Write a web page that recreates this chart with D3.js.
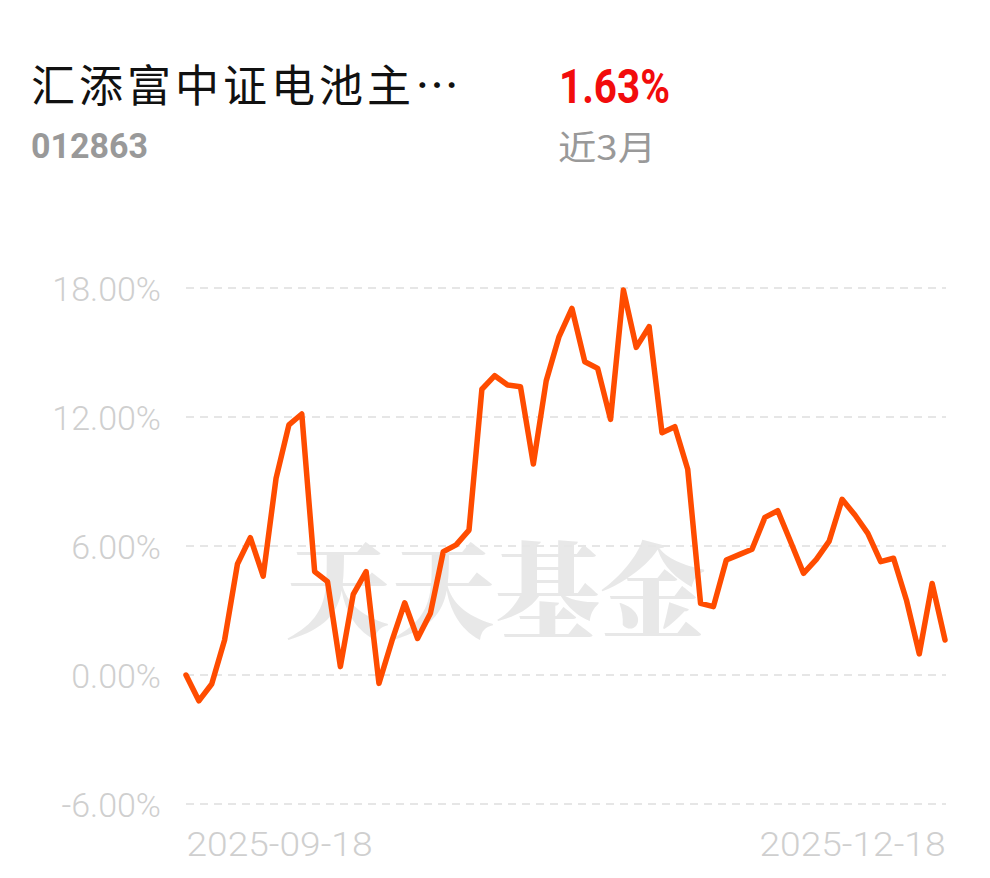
<!DOCTYPE html>
<html>
<head>
<meta charset="utf-8">
<script src="https://cdn.jsdelivr.net/npm/d3@7/dist/d3.min.js"></script>
<style>
  html, body { margin: 0; padding: 0; background: #fff; }
  svg { display: block; font-family: Roboto, "Noto Sans CJK SC", sans-serif; }
</style>
</head>
<body>
<svg id="chart" width="990" height="878"></svg>
<script>
const fundName = "汇添富中证电池主…";
const fundCode = "012863";
const periodReturn = "1.63%";
const periodLabel = "近3月";
const watermark = "天天基金";

const dates = [
  "2025-09-18","2025-09-19","2025-09-22","2025-09-23","2025-09-24","2025-09-25","2025-09-26","2025-09-29","2025-09-30",
  "2025-10-09","2025-10-10","2025-10-13","2025-10-14","2025-10-15","2025-10-16","2025-10-17","2025-10-20","2025-10-21",
  "2025-10-22","2025-10-23","2025-10-24","2025-10-27","2025-10-28","2025-10-29","2025-10-30","2025-10-31",
  "2025-11-03","2025-11-04","2025-11-05","2025-11-06","2025-11-07","2025-11-10","2025-11-11","2025-11-12","2025-11-13",
  "2025-11-14","2025-11-17","2025-11-18","2025-11-19","2025-11-20","2025-11-21","2025-11-24","2025-11-25","2025-11-26",
  "2025-11-27","2025-11-28","2025-12-01","2025-12-02","2025-12-03","2025-12-04","2025-12-05","2025-12-08","2025-12-09",
  "2025-12-10","2025-12-11","2025-12-12","2025-12-15","2025-12-16","2025-12-17","2025-12-18"
];
const returns = [
  0.00, -1.20, -0.42, 1.63, 5.16, 6.39, 4.60, 9.15, 11.63, 12.14,
  4.81, 4.34, 0.39, 3.75, 4.81, -0.39, 1.57, 3.36, 1.70, 2.87,
  5.74, 6.05, 6.74, 13.29, 13.92, 13.49, 13.41, 9.81, 13.68, 15.74,
  17.05, 14.57, 14.26, 11.89, 17.91, 15.24, 16.20, 11.27, 11.55, 9.57,
  3.33, 3.18, 5.35, 5.60, 5.85, 7.33, 7.64, 6.20, 4.73, 5.38,
  6.23, 8.17, 7.44, 6.59, 5.27, 5.43, 3.49, 0.98, 4.26, 1.63
];
const yTicks = [-6, 0, 6, 12, 18];
const xTickLabels = ["2025-09-18", "2025-12-18"];

const svg = d3.select("#chart");

// Header
svg.append("text").attr("x", 31).attr("y", 102)
  .attr("font-family", "'Noto Sans CJK SC', sans-serif")
  .attr("font-size", 44).attr("fill", "#111")
  .attr("textLength", 428).attr("lengthAdjust", "spacing")
  .text(fundName);
svg.append("text").attr("x", 31).attr("y", 158)
  .attr("font-family", "Roboto, sans-serif").attr("font-weight", 700)
  .attr("font-size", 35).attr("fill", "#999")
  .attr("textLength", 117).attr("lengthAdjust", "spacingAndGlyphs")
  .text(fundCode);
svg.append("text").attr("x", 559).attr("y", 103)
  .attr("font-family", "Roboto, sans-serif").attr("font-weight", 700)
  .attr("font-size", 49).attr("fill", "#f20c0c")
  .attr("textLength", 111).attr("lengthAdjust", "spacingAndGlyphs")
  .text(periodReturn);
svg.append("text").attr("x", 558).attr("y", 160)
  .attr("font-family", "'Noto Sans CJK SC', sans-serif")
  .attr("font-size", 34).attr("fill", "#999")
  .attr("textLength", 98).attr("lengthAdjust", "spacingAndGlyphs")
  .text(periodLabel);

// Scales
const x = d3.scalePoint().domain(dates).range([186, 945]);
const y = d3.scaleLinear().domain([-6, 18]).range([804, 288]);

// Watermark
svg.append("text").attr("x", 495).attr("y", 630)
  .attr("text-anchor", "middle")
  .attr("font-family", "'Noto Serif CJK SC', 'Noto Sans CJK SC', serif")
  .attr("font-weight", 900).attr("font-size", 104)
  .attr("fill", "#e8e8e8")
  .attr("textLength", 420).attr("lengthAdjust", "spacingAndGlyphs")
  .text(watermark);

// Y axis labels
const yAxis = d3.axisLeft(y).tickValues(yTicks)
  .tickSize(0).tickPadding(0)
  .tickFormat(d => d3.format(".2f")(d).replace("−", "-") + "%");
const gy = svg.append("g").attr("transform", "translate(161,0)").call(yAxis);
gy.select(".domain").remove();
gy.selectAll("text")
  .attr("font-family", "Roboto, sans-serif").attr("font-weight", 300)
  .attr("font-size", 34).attr("fill", "#cfcfcf").attr("dy", "0.36em");

// Grid
svg.append("g").selectAll("line").data(yTicks).join("line")
  .attr("x1", 186).attr("x2", 946)
  .attr("y1", d => y(d)).attr("y2", d => y(d))
  .attr("stroke", "#e6e6e6").attr("stroke-width", 2)
  .attr("stroke-dasharray", "8,6");

// Line
const line = d3.line().x((d, i) => x(dates[i])).y(d => y(d));
svg.append("path").datum(returns)
  .attr("d", line)
  .attr("fill", "none").attr("stroke", "#ff4c00")
  .attr("stroke-width", 5.5).attr("stroke-linejoin", "round").attr("stroke-linecap", "round");

// X labels
const xAxis = d3.axisBottom(x).tickValues(xTickLabels).tickSize(0).tickPadding(0);
const gx = svg.append("g").attr("transform", "translate(0,830)").call(xAxis);
gx.select(".domain").remove();
gx.selectAll("text")
  .attr("font-family", "Roboto, sans-serif").attr("font-weight", 300)
  .attr("font-size", 34).attr("fill", "#cfcfcf")
  .attr("dy", "0.76em")
  .attr("textLength", 186).attr("lengthAdjust", "spacingAndGlyphs")
  .attr("text-anchor", (d, i) => i === 0 ? "start" : "end");
</script>
</body>
</html>
